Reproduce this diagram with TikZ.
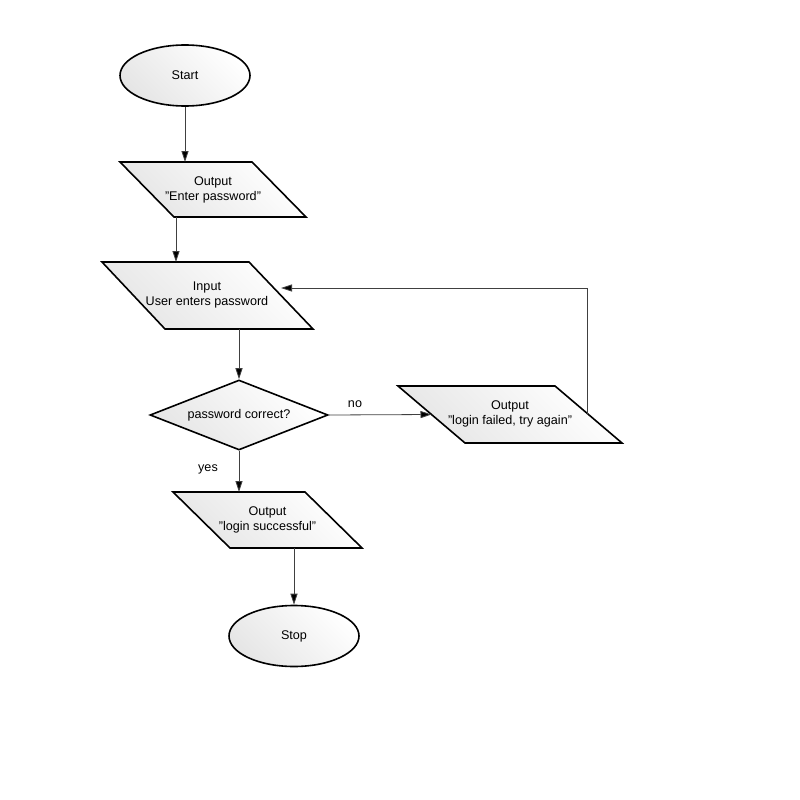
\documentclass[tikz,border=0pt]{standalone}
\usepackage{fontspec}
\setmainfont{Liberation Sans}
\usetikzlibrary{shapes.geometric,arrows.meta,calc}
\newcommand{\qq}{\symbol{34}}
\begin{document}
\begin{tikzpicture}[x=1pt,y=-1pt,
  shapeline/.style={draw=black, line width=1.6pt, top color=white, bottom color=black!10, shading angle=-45},
  lbl/.style={font=\fontsize{12.6}{15}\selectfont, align=center, inner sep=0pt},
  term/.style={ellipse, shapeline, minimum width=130pt, minimum height=61pt, lbl},
  decide/.style={diamond, shapeline, minimum width=178pt, minimum height=70pt, aspect=2.5, lbl},
  conn/.style={draw=black!75, line width=0.8pt, -{Triangle[length=11pt,width=7pt,fill=black]}},
  edgelbl/.style={font=\fontsize{12.6}{15}\selectfont, inner sep=0pt}
]
\useasboundingbox (0,0) rectangle (800,800);

% Start
\node[term] (start) at (185,75.5) {Start};

% Output "Enter password"
\coordinate (o1a) at (120,162);
\coordinate (o1b) at (252,162);
\coordinate (o1c) at (306,217);
\coordinate (o1d) at (174,217);
\draw[shapeline] (o1a) -- (o1b) -- (o1c) -- (o1d) -- cycle;
\node[lbl] (o1) at (213,189.5) {Output\\\qq Enter password\qq};

% Input
\coordinate (ina) at (102,262);
\coordinate (inb) at (249,262);
\coordinate (inc) at (313,329);
\coordinate (ind) at (165,329);
\draw[shapeline] (ina) -- (inb) -- (inc) -- (ind) -- cycle;
\node[lbl] (in) at (207,294.5) {Input\\User enters password};

% Decision
\node[decide] (dec) at (239,415) {password correct?};

% Output "login failed"
\coordinate (fa) at (398,386);
\coordinate (fb) at (555,386);
\coordinate (fc) at (622,443);
\coordinate (fd) at (465,443);
\draw[shapeline] (fa) -- (fb) -- (fc) -- (fd) -- cycle;
\node[lbl] (fail) at (510,414) {Output\\\qq login failed, try again\qq};

% Output "login successful"
\coordinate (sa) at (173,492);
\coordinate (sb) at (305,492);
\coordinate (sc) at (362,548);
\coordinate (sd) at (230,548);
\draw[shapeline] (sa) -- (sb) -- (sc) -- (sd) -- cycle;
\node[lbl] (succ) at (267.5,520) {Output\\\qq login successful\qq};

% Stop
\node[term] (stop) at (294,636) {Stop};

% connector end points
\coordinate (o1out) at (176,217);
\coordinate (inout) at (239,329);
\coordinate (failin) at ($(fa)!0.5!(fd)$);
\coordinate (failout) at ($(fb)!0.49!(fc)$);
\coordinate (inin) at (281,288);
\coordinate (succout) at (294,548);

% connectors
\draw[conn] (start.south) -- (start.south |- o1a);
\draw[conn] (o1out) -- (o1out |- ina);
\draw[conn] (inout) -- (dec.north);
\draw[conn] (dec.south) -- (dec.south |- sa);
\draw[conn] (dec.east) -- (failin);
\draw[conn] (failout) |- (inin);
\draw[conn] (succout) -- (stop.north);

% labels
\node[edgelbl] (yes) at (208,469) {yes};
\node[edgelbl] (no) at (355,404) {no};
\end{tikzpicture}
\end{document}
